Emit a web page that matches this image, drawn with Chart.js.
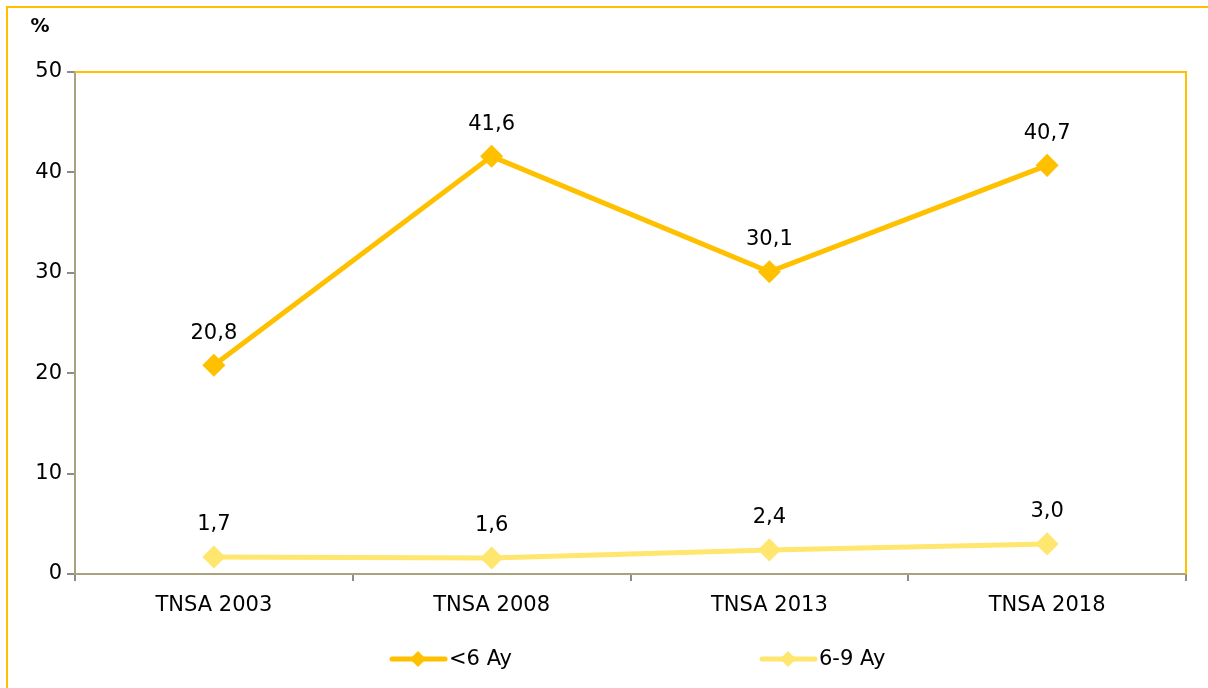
<!DOCTYPE html>
<html><head><meta charset="utf-8">
<script src="https://cdn.jsdelivr.net/npm/chart.js@4"></script>
<style>html,body{margin:0;padding:0;background:#fff}#wrap{width:1208px;height:688px}</style>
</head><body><div id="wrap"><canvas id="c" width="1208" height="688"></canvas></div>
<script>
const categories = ['TNSA 2003','TNSA 2008','TNSA 2013','TNSA 2018'];
const under6 = [20.8, 41.6, 30.1, 40.7];
const six9 = [1.7, 1.6, 2.4, 3.0];
const seriesNames = ['<6 Ay','6-9 Ay'];
const yTicks = [0,10,20,30,40,50];

const FONT = 'DejaVu Sans';
const FS = 21;
const C1 = '#FFC000', C2 = '#FFE66E', AX = '#A9A27F', TK = '#8C8C8C';

const deco = {
  id:'deco',
  beforeDraw(chart){
    const ctx = chart.ctx;
    ctx.save();
    ctx.fillStyle='#fff';ctx.fillRect(0,0,chart.width,chart.height);
    ctx.strokeStyle=C1;ctx.lineWidth=2;
    ctx.beginPath();ctx.moveTo(7,688);ctx.lineTo(7,7);ctx.lineTo(1208,7);ctx.stroke();
    ctx.restore();
  },
  afterDraw(chart){
    const ctx = chart.ctx, a = chart.chartArea;
    ctx.save();
    ctx.strokeStyle=C1;ctx.lineWidth=2;
    ctx.beginPath();ctx.moveTo(a.left,a.top);ctx.lineTo(a.right,a.top);ctx.lineTo(a.right,a.bottom);ctx.stroke();
    ctx.fillStyle='#000';ctx.font='bold 19px '+FONT;ctx.textAlign='center';ctx.textBaseline='middle';
    ctx.fillText('%',40,27);
    ctx.font=FS+'px '+FONT;ctx.textBaseline='middle';
    chart.data.datasets.forEach((ds,i)=>{
      chart.getDatasetMeta(i).data.forEach((pt,j)=>{
        ctx.fillText(ds.data[j].toFixed(1).replace('.',','),pt.x,pt.y-32);
      });
    });
    const items=[{x:390,c:C1,t:seriesNames[0]},{x:760,c:C2,t:seriesNames[1]}];
    const ly=659;
    items.forEach(it=>{
      ctx.strokeStyle=it.c;ctx.lineWidth=5;ctx.lineCap='round';
      ctx.beginPath();ctx.moveTo(it.x+2,ly);ctx.lineTo(it.x+55,ly);ctx.stroke();
      ctx.fillStyle=it.c;ctx.beginPath();
      const cx=it.x+28,r=8;
      ctx.moveTo(cx,ly-r);ctx.lineTo(cx+r,ly);ctx.lineTo(cx,ly+r);ctx.lineTo(cx-r,ly);ctx.closePath();ctx.fill();
      ctx.fillStyle='#000';ctx.font=FS+'px '+FONT;ctx.textAlign='left';ctx.textBaseline='middle';
      ctx.fillText(it.t,it.x+59,ly+1);
    });
    ctx.restore();
  }
};

new Chart(document.getElementById('c'),{
  type:'line',
  data:{labels:categories,datasets:[
    {label:seriesNames[0],data:under6,borderColor:C1,backgroundColor:C1,borderWidth:5,pointStyle:'rectRot',pointRadius:8,pointHoverRadius:8,tension:0},
    {label:seriesNames[1],data:six9,borderColor:C2,backgroundColor:C2,borderWidth:5,pointStyle:'rectRot',pointRadius:8,pointHoverRadius:8,tension:0}
  ]},
  options:{
    responsive:false,animation:false,devicePixelRatio:1,
    layout:{padding:{left:0,right:22,top:72,bottom:0}},
    plugins:{legend:{display:false},tooltip:{enabled:false}},
    scales:{
      x:{offset:true,
        grid:{offset:true,drawOnChartArea:false,drawTicks:true,tickLength:7,color:TK,lineWidth:2},
        border:{color:AX,width:2},
        ticks:{font:{family:FONT,size:FS},color:'#000',padding:12,maxRotation:0},
        afterFit(s){s.height=114;}
      },
      y:{min:0,max:50,
        afterBuildTicks(s){s.ticks=yTicks.map(v=>({value:v}));},
        grid:{drawOnChartArea:false,drawTicks:true,tickLength:8,color:TK,lineWidth:2},
        border:{color:AX,width:2},
        ticks:{font:{family:FONT,size:FS},color:'#000',padding:5},
        afterFit(s){s.width=75;}
      }
    }
  },
  plugins:[deco]
});
</script></body></html>
